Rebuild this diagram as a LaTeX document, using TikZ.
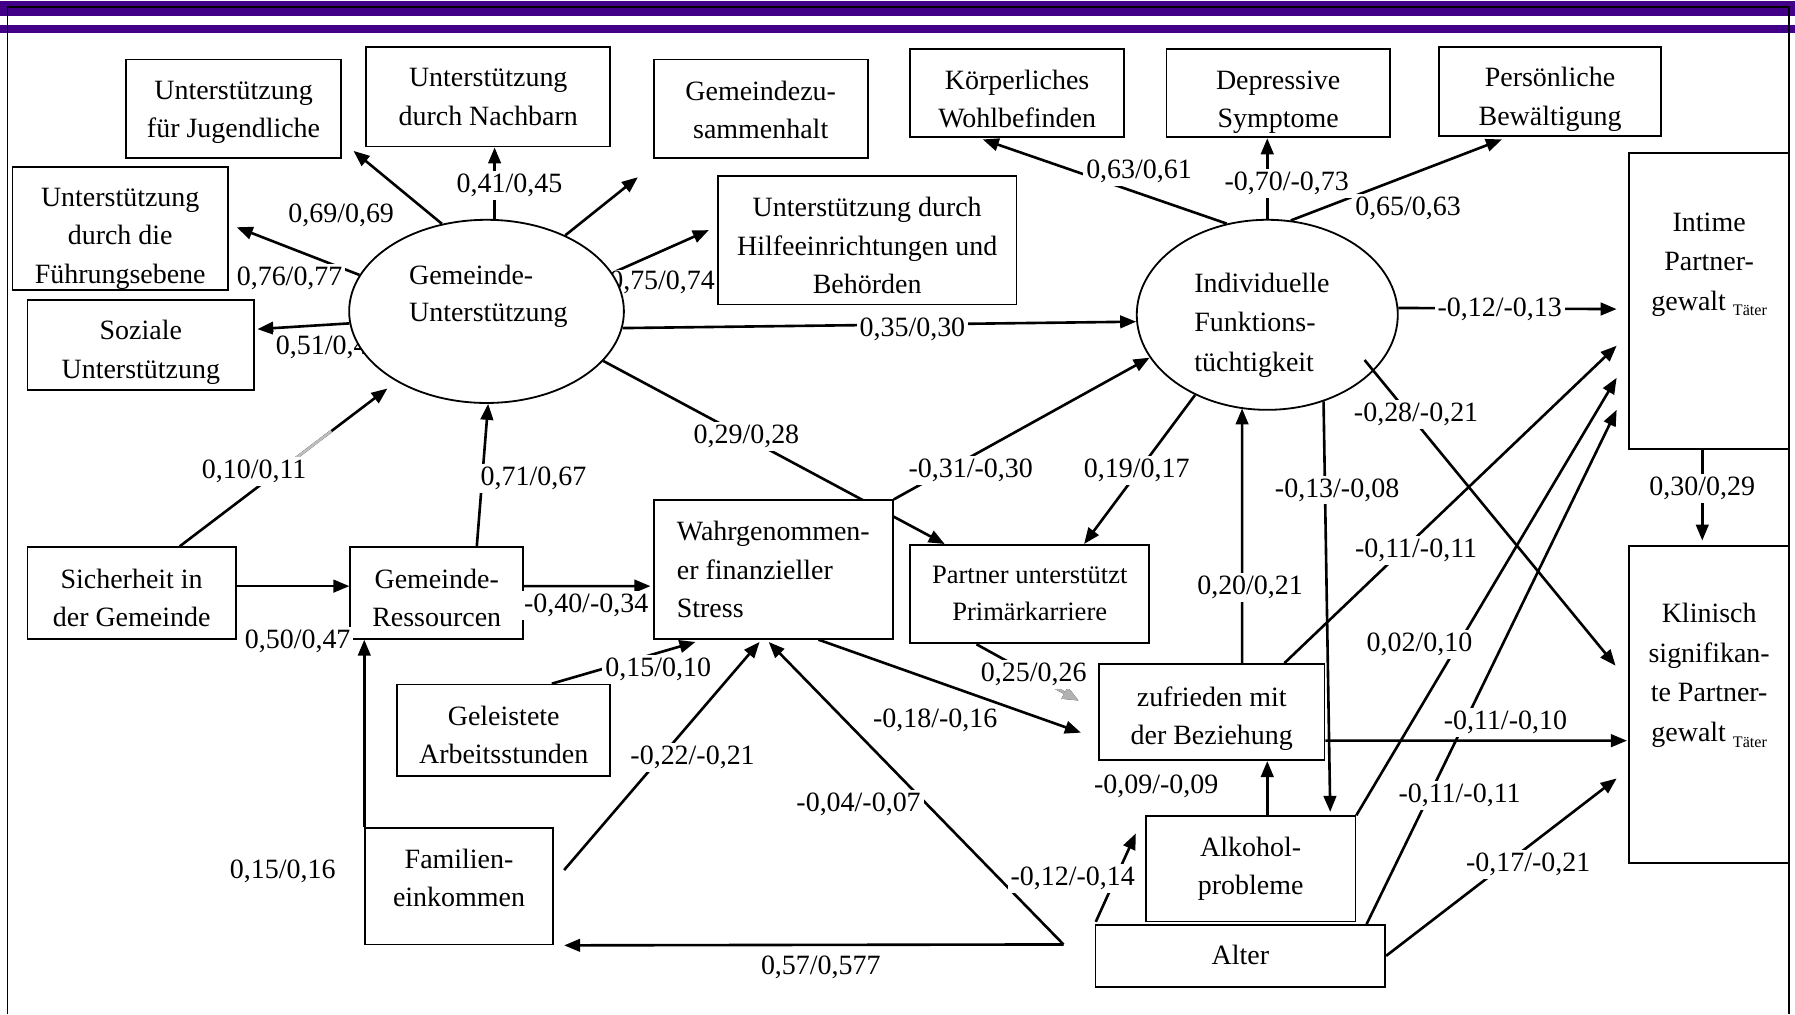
\documentclass[tikz,border=0pt]{standalone}
\usepackage{fontspec}
\setmainfont{Liberation Serif}
\usepackage{tikz}
\usetikzlibrary{shapes.geometric, positioning, arrows.meta, calc}
\definecolor{bandpurple}{RGB}{66,0,137}
\newcommand{\px}{0.02cm}
\newcommand{\taeter}{\raisebox{-0.45ex}{\fontsize{8}{9}\selectfont Täter}}
\pgfdeclarelayer{bg}
\pgfsetlayers{bg,main}

\begin{document}
\begin{tikzpicture}[x=0.02cm, y=-0.02cm,
        % Style for observed variables
        obsbox/.style={
            draw,
            fill=white,
            line width=0.9pt,
            align=center,
            inner sep=0pt,
            font=\fontsize{13.9}{19}\selectfont
        },
        boxsize/.style 2 args={minimum width=#1*\px, minimum height=#2*\px},
        % where the last text line sits in a box
        baseline_at/.style={text height=#1, text depth=0pt},
        % Style for latent variables
        latentvar/.style={
            draw,
            ellipse,
            fill=white,
            line width=0.9pt,
            inner sep=0pt
        },
        % Style for texts inside tall shapes
        innertext/.style={
            inner sep=0pt,
            font=\fontsize{13.9}{19.6}\selectfont
        },
        % Style for path arrows
        path_arrow/.style={
            -{Triangle[length=0.28cm, width=0.22cm]},
            line width=1.3pt
        },
        faded/.style={line width=1.3pt, black!25},
        % Style for path coefficients
        coef_label/.style={
            fill=white,
            inner sep=1.5pt,
            font=\fontsize{13.9}{19}\selectfont
        }
    ]

    \useasboundingbox (0,0) rectangle (1568,886);

    % ==========================================
    % FRAME
    % ==========================================
    \fill[bandpurple] (0,1) rectangle (1568,14);
    \fill[bandpurple] (0,22) rectangle (1568,29);
    \draw[line width=0.8pt] (6.4,886) -- (6.4,5.9) -- (1563,5.9) -- (1563,886);

    % ==========================================
    % OBSERVED VARIABLES
    % ==========================================
    \node[obsbox, boxsize={188}{86}, baseline_at=28.8pt] (UJ) at (204,95) {Unterstützung\\für Jugendliche};
    \node[obsbox, boxsize={213}{87}, baseline_at=28.2pt] (UN) at (426.5,84.5) {Unterstützung\\durch Nachbarn};
    \node[obsbox, boxsize={187}{86}, baseline_at=29.9pt] (GZ) at (664.5,95) {Gemeindezu-\\sammenhalt};
    \node[obsbox, boxsize={188}{107}, baseline_at=54.4pt] (UF) at (105,199.5) {Unterstützung\\durch die\\Führungsebene};
    \node[obsbox, boxsize={198}{79}, baseline_at=32.8pt] (SU) at (123,301.5) {Soziale\\Unterstützung};
    \node[obsbox, boxsize={261}{112}, baseline_at=52.7pt] (UH) at (757.5,210) {Unterstützung durch\\Hilfeeinrichtungen und\\Behörden};

    \node[obsbox, boxsize={187}{77}, baseline_at=33.9pt] (KW) at (888.5,81.5) {Körperliches\\Wohlbefinden};
    \node[obsbox, boxsize={195}{77}, baseline_at=33.9pt] (DS) at (1116.5,81.5) {Depressive\\Symptome};
    \node[obsbox, boxsize={194}{78}, baseline_at=33.4pt] (PB) at (1354,80) {Persönliche\\Bewältigung};

    \node[obsbox, boxsize={140}{258}] (IPV) at (1493,263) {};
    \node[innertext, align=center] (IPVtext) at (1493,231) {Intime\\Partner-\\gewalt \taeter};
    \node[obsbox, boxsize={140}{277}] (KPV) at (1493,615.5) {};
    \node[innertext, align=center] (KPVtext) at (1493,590) {Klinisch\\signifikan-\\te Partner-\\gewalt \taeter};

    \node[obsbox, boxsize={182}{80}, baseline_at=33.4pt] (SG) at (115,518) {Sicherheit in\\der Gemeinde};
    \node[obsbox, boxsize={151}{80}, baseline_at=33.4pt] (GR) at (381.5,518) {Gemeinde-\\Ressourcen};
    \node[obsbox, align=left, boxsize={209}{121}, baseline_at=47.6pt] (FS) at (675.5,497.5) {Wahrgenommen-\\er finanzieller\\Stress};
    \node[obsbox, boxsize={209}{86}, font=\fontsize{13.2}{18.5}\selectfont, baseline_at=26.5pt] (PP) at (899.5,519) {Partner unterstützt\\Primärkarriere};
    \node[obsbox, boxsize={186}{80}, baseline_at=33.4pt] (GA) at (440,638) {Geleistete\\Arbeitsstunden};
    \node[obsbox, boxsize={164}{102}, baseline_at=20.8pt] (FE) at (401,774) {Familien-\\einkommen};
    \node[obsbox, boxsize={197}{84}, baseline_at=32.2pt] (ZB) at (1058.5,622) {zufrieden mit\\der Beziehung};
    \node[obsbox, boxsize={183}{92}, baseline_at=25.4pt] (AP) at (1092.5,759) {Alkohol-\\probleme};
    \node[obsbox, boxsize={253}{54}, baseline_at=8.3pt] (AL) at (1083.5,835) {Alter};

    % ==========================================
    % PATH COEFFICIENTS
    % ==========================================
    \node[coef_label] (c1) at (298,188) {0,69/0,69};
    \node[coef_label] (c2) at (445,162) {0,41/0,45};
    \node[coef_label] (c3) at (253,243) {0,76/0,77};
    \node[coef_label, anchor=west] (c4) at (238,303) {0,51/0,4};
    \node[coef_label, anchor=west, inner sep=0.5pt] (c5) at (531,247) {0,75/0,74};
    \node[coef_label] (c6) at (797,288) {0,35/0,30};
    \node[coef_label] (c7) at (652,381) {0,29/0,28};
    \node[coef_label] (c8) at (222,412) {0,10/0,11};
    \node[coef_label] (c9) at (466,418) {0,71/0,67};
    \node[coef_label] (c10) at (260,560) {0,50/0,47};
    \node[coef_label] (c11) at (512,529) {-0,40/-0,34};
    \node[coef_label] (c12) at (247,761) {0,15/0,16};
    \node[coef_label] (c13) at (575,585) {0,15/0,10};
    \node[coef_label] (c14) at (605,662) {-0,22/-0,21};
    \node[coef_label] (c15) at (750,703) {-0,04/-0,07};
    \node[coef_label] (c16) at (717,845) {0,57/0,577};
    \node[coef_label] (c17) at (937,767) {-0,12/-0,14};
    \node[coef_label] (c18) at (1010,687) {-0,09/-0,09};
    \node[coef_label] (c19) at (1092,513) {0,20/0,21};
    \node[coef_label] (c20) at (1168,428) {-0,13/-0,08};
    \node[coef_label] (c21) at (993,411) {0,19/0,17};
    \node[coef_label] (c22) at (848,411) {-0,31/-0,30};
    \node[coef_label] (c23) at (817,629) {-0,18/-0,16};
    \node[coef_label] (c24) at (903,589) {0,25/0,26};
    \node[coef_label] (c25) at (995,150) {0,63/0,61};
    \node[coef_label] (c26) at (1124,160) {-0,70/-0,73};
    \node[coef_label] (c27) at (1230,182) {0,65/0,63};
    \node[coef_label] (c28) at (1310,270) {-0,12/-0,13};
    \node[coef_label] (c29) at (1487,427) {0,30/0,29};
    \node[coef_label] (c30) at (1237,481) {-0,11/-0,11};
    \node[coef_label] (c31) at (1240,563) {0,02/0,10};
    \node[coef_label] (c32) at (1275,695) {-0,11/-0,11};
    \node[coef_label] (c33) at (1315,631) {-0,11/-0,10};
    \node[coef_label] (c34) at (1335,755) {-0,17/-0,21};

    % ==========================================
    % LATENT VARIABLES
    % ==========================================
    \node[latentvar, minimum width=240*\px, minimum height=160*\px] (GU) at (425,272) {};
    \node[innertext, align=left, anchor=west, font=\fontsize{13.9}{18.5}\selectfont] (GUtext) at (357,258.5) {Gemeinde-\\Unterstützung};
    \node[latentvar, minimum width=228*\px, minimum height=166*\px] (IF) at (1107,275) {};
    \node[innertext, align=left, anchor=west] (IFtext) at (1043,284) {Individuelle\\Funktions-\\tüchtigkeit};

    % ==========================================
    % PATHS
    % ==========================================
    \begin{pgfonlayer}{bg}
    % Gemeinde-Unterstuetzung and its indicators
    \draw[path_arrow] (GU.117) -- ($(UJ.south east)+(10,-7)$);
    \draw[path_arrow] (GU.85) -- (GU.85 |- UN.south);
    \draw[path_arrow] (GU.44) -- ($(GZ.south west)+(-13,16)$);
    \draw[path_arrow] (GU.164) -- ($(UF.east)+(7,-1)$);
    \draw[path_arrow] (GU.185) -- ($(SU.east)+(2,-14)$);
    \draw[path_arrow] (GU.17) -- ($(UH.west)+(-7,-9)$);
    \draw[path_arrow] (GU.-7) -- (IF.183);
    \draw[path_arrow] (GU.-23) -- ($(PP.north west)+(31,0)$);

    % community and family resources
    \coordinate (sgtop) at ($(SG.north)+(42,0)$);
    \coordinate (gutip) at ($(GU.218)+(-8,6)$);
    \draw[path_arrow] (sgtop) -- (gutip);
    \draw[faded] ($(sgtop)!0.43!(gutip)$) -- ($(sgtop)!0.73!(gutip)$);
    \draw[path_arrow] ($(SG.east)+(0,-6)$) -- ($(GR.west)+(0,-6)$);
    \draw[path_arrow] ($(GR.north)+(35,0)$) -- (GU.-89);
    \draw[path_arrow] ($(GR.east)+(0,-6)$) -- ($(FS.west)+(-2,14.5)$);
    \draw[path_arrow] (FE.north west) -- (FE.north west |- GR.south);
    \draw[path_arrow] ($(FE.east)+(9,-14)$) -- ($(FS.south)+(-12,2)$);
    \draw[path_arrow] ($(GA.north)+(42,0)$) -- ($(FS.south)+(-68,2)$);
    \coordinate (apex) at (929,825);
    \draw[path_arrow] (apex) -- ($(FS.south)+(-4,2)$);
    \draw[path_arrow] (apex) -- ($(FE.south east)+(9,0)$);

    % stress, relationship and alcohol
    \draw[path_arrow] (FS.north east) -- (IF.200);
    \draw[path_arrow] ($(FS.south)+(39.5,0)$) -- ($(ZB.west)+(-15,18)$);
    \coordinate (ppfoot) at ($(PP.south)+(-46.5,0)$);
    \coordinate (zbtip) at ($(ZB.west)+(-17,-10)$);
    \draw[path_arrow] (ppfoot) -- (zbtip);
    \draw[path_arrow, black!30] ($(ppfoot)!0.3!(zbtip)$) -- (zbtip);
    \draw[path_arrow] (IF.228) -- ($(PP.north)+(47.5,0)$);
    \draw[path_arrow] ($(ZB.north)+(26.5,0)$) -- ($(IF.south)+(-22,-2)$);
    \draw[path_arrow] (IF.-57) -- ($(AP.north)+(69.5,-3)$);
    \draw[path_arrow] ($(AP.north)+(14.5,0)$) -- ($(ZB.south)+(48.5,0)$);
    \draw[path_arrow] ($(AL.north west)+(1,-2)$) -- ($(AP.west)+(-8,-31)$);

    % Individuelle Funktionstuechtigkeit and its indicators
    \draw[path_arrow] (IF.114) -- ($(KW.south)+(-30,1)$);
    \draw[path_arrow] (IF.north) -- (IF.north |- DS.south);
    \draw[path_arrow] (IF.76) -- ($(PB.south)+(-42,2)$);

    % partner violence
    \draw[path_arrow] (IF.3) -- ($(IPV.west)+(-10,7)$);
    \draw[path_arrow] ($(IPV.south)+(-6,0)$) -- ($(KPV.north)+(-6,-4)$);
    \draw[path_arrow] ($(ZB.north)+(63.5,0)$) -- ($(IPV.west)+(-10,39)$);
    \draw[path_arrow] (AP.north east) -- ($(IPV.west)+(-10,67)$);
    \draw[path_arrow] ($(AL.north east)+(-17,0)$) -- ($(IPV.west)+(-10,95)$);
    \draw[path_arrow] ($(ZB.east)+(0,25)$) -- ($(KPV.west)+(-1,31.5)$);
    \draw[path_arrow] (AL.east) -- ($(KPV.west)+(-10,64.5)$);
    \end{pgfonlayer}

    % path that starts inside the ellipse
    \draw[path_arrow] ($(IF.center)+(85,39.5)$) -- ($(KPV.west)+(-11,-34)$);
    \node[coef_label] (c35) at (1237,362) {-0,28/-0,21};

\end{tikzpicture}
\end{document}
